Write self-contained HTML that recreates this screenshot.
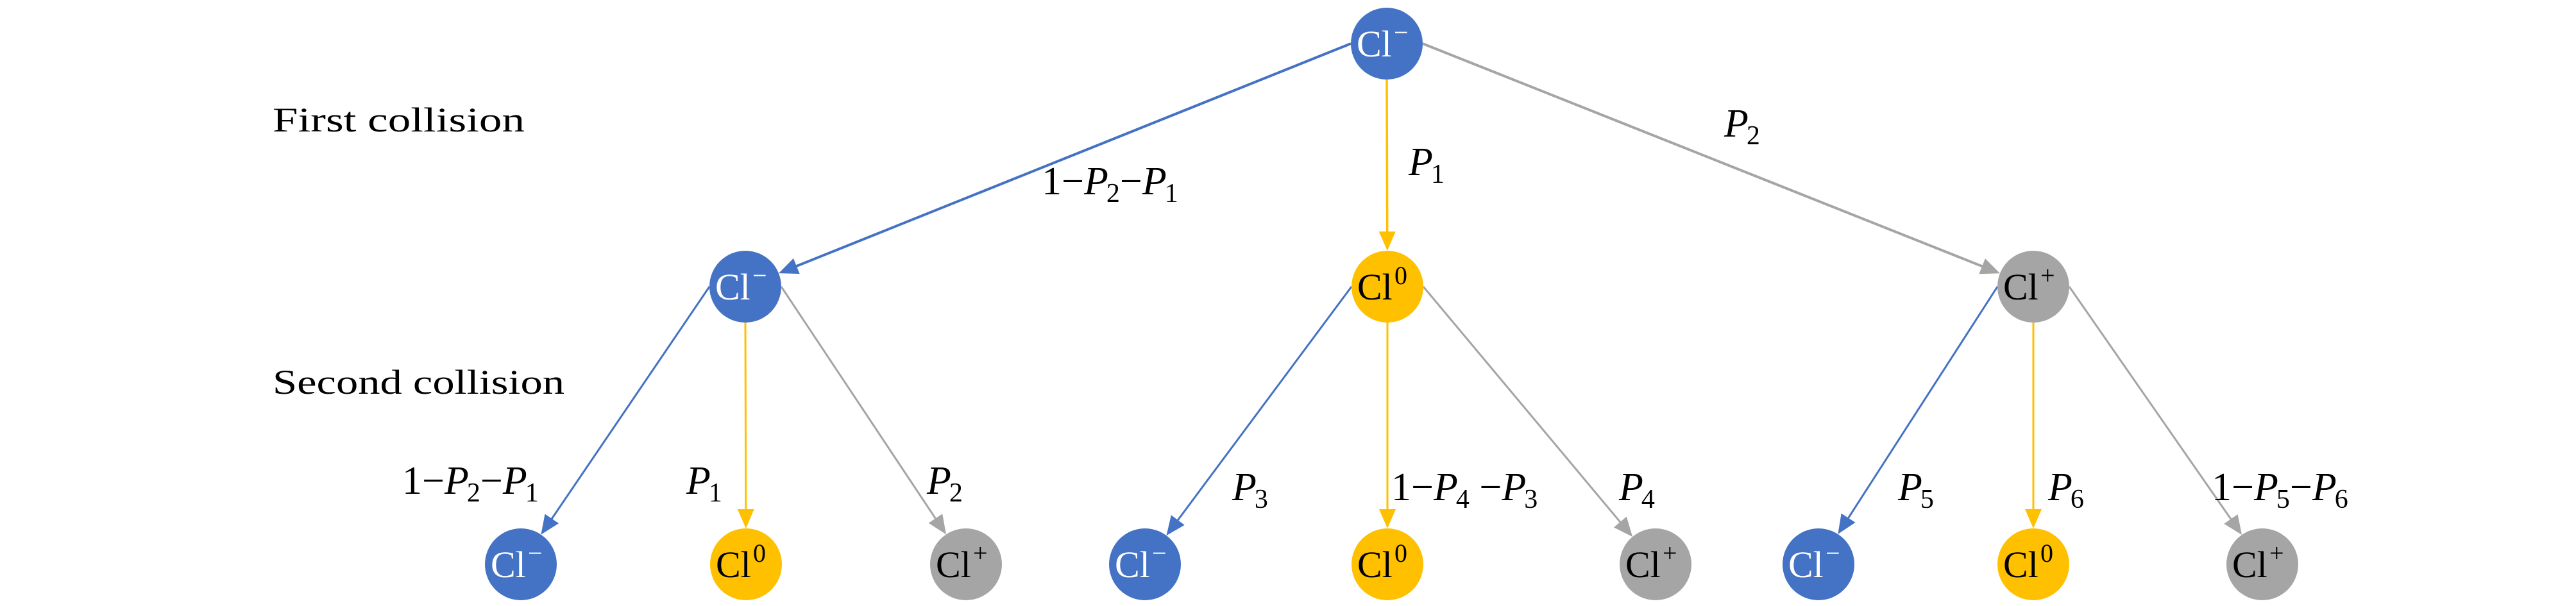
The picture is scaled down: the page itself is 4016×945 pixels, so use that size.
<!DOCTYPE html>
<html><head><meta charset="utf-8">
<style>
html,body{margin:0;padding:0;background:#fff;}
svg{display:block;}
text{font-family:"Liberation Serif","DejaVu Serif",serif;}
</style></head>
<body>
<svg id="s" width="4016" height="945" viewBox="0 0 4016 945" xmlns="http://www.w3.org/2000/svg" font-family="'Liberation Serif', 'DejaVu Serif', serif">
<g id="edges"></g>
<g id="nodes"></g>
<g font-size="54" fill="#000">
<text x="425" y="205" textLength="393" lengthAdjust="spacingAndGlyphs">First collision</text>
<text x="425" y="614" textLength="455" lengthAdjust="spacingAndGlyphs">Second collision</text>
</g>
<g id="labels" font-size="62" fill="#000"></g>
</svg>
<script>
var NS="http://www.w3.org/2000/svg";
var B="#4472C4",Y="#FFC000",G="#A5A5A5";
var R=56;
var N={
 t:[2162,68,B,"−"],
 a:[1162,447,B,"−"], b:[2163,447,Y,"0"], c:[3170,447,G,"+"],
 a1:[812,880,B,"−"], a2:[1163,880,Y,"0"], a3:[1506,880,G,"+"],
 b1:[1785,880,B,"−"], b2:[2163,880,Y,"0"], b3:[2581,880,G,"+"],
 c1:[2835,880,B,"−"], c2:[3170,880,Y,"0"], c3:[3527,880,G,"+"]
};
function el(t,a,p){var e=document.createElementNS(NS,t);for(var k in a)e.setAttribute(k,a[k]);(p||document.getElementById("s")).appendChild(e);return e;}
var E=document.getElementById("edges");
function edge(f,to,side,col,w){
 var A=N[f],T=N[to],sx,sy;
 if(side=="l"){sx=A[0]-R;sy=A[1];}else if(side=="r"){sx=A[0]+R;sy=A[1];}else{sx=A[0];sy=A[1]+R;}
 var dx=T[0]-sx,dy=T[1]-sy,L=Math.sqrt(dx*dx+dy*dy),ux=dx/L,uy=dy/L;
 var tx=T[0]-ux*R,ty=T[1]-uy*R;
 var al=30,aw=13;
 var bx=tx-ux*al,by=ty-uy*al;
 el("line",{x1:sx,y1:sy,x2:bx+ux*2,y2:by+uy*2,stroke:col,"stroke-width":w},E);
 el("polygon",{points:tx+","+ty+" "+(bx-uy*aw)+","+(by+ux*aw)+" "+(bx+uy*aw)+","+(by-ux*aw),fill:col},E);
}
edge("t","a","l",B,4);edge("t","b","b",Y,3.5);edge("t","c","r",G,4);
edge("a","a1","l",B,3);edge("a","a2","b",Y,3);edge("a","a3","r",G,3);
edge("b","b1","l",B,3);edge("b","b2","b",Y,3);edge("b","b3","r",G,3);
edge("c","c1","l",B,3);edge("c","c2","b",Y,3);edge("c","c3","r",G,3);
var ND=document.getElementById("nodes");
for(var k in N){var n=N[k];
 el("circle",{cx:n[0],cy:n[1],r:R,fill:n[2]},ND);
 var tc=n[2]==B?"#fff":"#000";
 var t=el("text",{x:n[0]-47,y:n[1]+20,"font-size":58,fill:tc},ND);
 t.textContent="Cl";
 var s=el("text",{x:n[0]+11,y:n[1]-4,"font-size":40,fill:tc},ND);
 s.textContent=n[3];
}
var LB=document.getElementById("labels");
function lab(x,y,parts){
 var t=el("text",{x:x,y:y},LB);
 parts.forEach(function(p){
  if(p[0]=="P"){
   var ts=document.createElementNS(NS,"tspan");ts.setAttribute("font-style","italic");ts.textContent="P";t.appendChild(ts);
   var sb=document.createElementNS(NS,"tspan");sb.setAttribute("font-size","42");sb.setAttribute("dy","12");sb.setAttribute("dx","-3");sb.textContent=p[1];t.appendChild(sb);
   var rs=document.createElementNS(NS,"tspan");rs.setAttribute("dy","-12");rs.textContent="\u200B";t.appendChild(rs);}
  else{var ts2=document.createElementNS(NS,"tspan");ts2.textContent=p;t.appendChild(ts2);}
 });
}
lab(1624,303,["1−","P2","−","P1"]);
lab(2196,273,["P1"]);
lab(2688,213,["P2"]);
lab(627,770,["1−","P2","−","P1"]);
lab(1070,770,["P1"]);
lab(1445,770,["P2"]);
lab(1921,780,["P3"]);
lab(2169,780,["1−","P4"," −","P3"]);
lab(2524,780,["P4"]);
lab(2959,780,["P5"]);
lab(3193,780,["P6"]);
lab(3448,780,["1−","P5","−","P6"]);
</script>
</body></html>
